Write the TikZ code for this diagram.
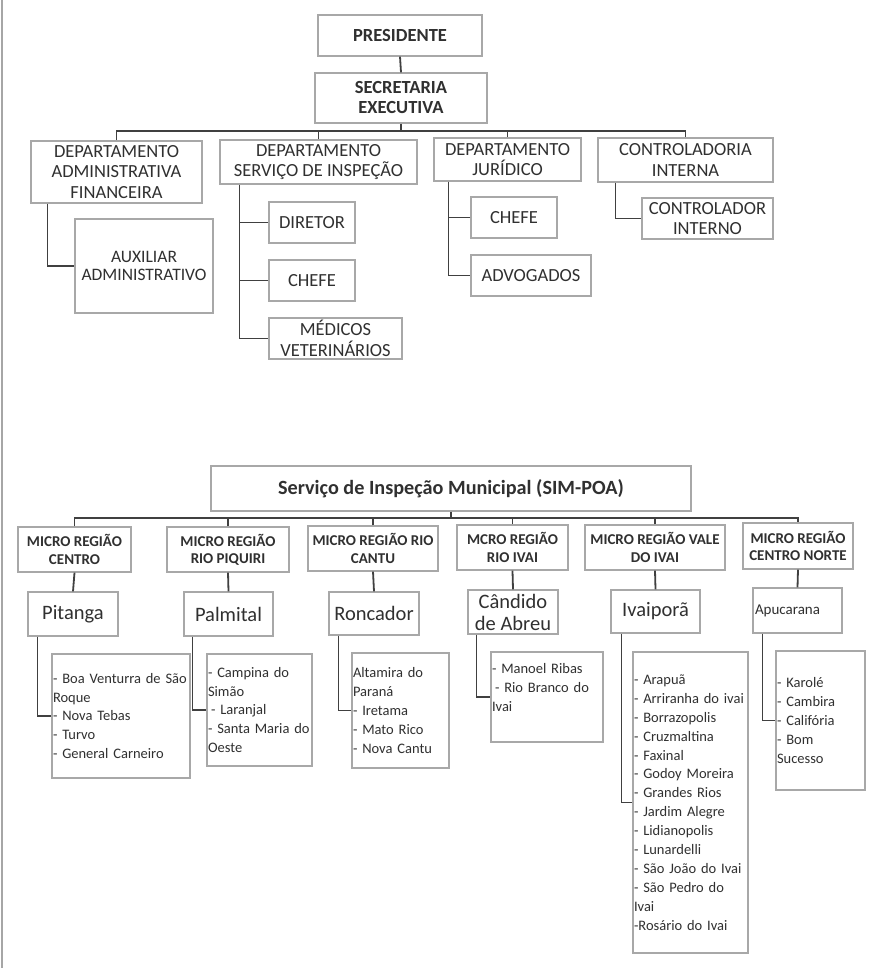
\documentclass[tikz,border=0pt]{standalone}
\usepackage{fontspec}
\setmainfont{Carlito}
\usetikzlibrary{calc}
\definecolor{txt}{HTML}{303030}
\definecolor{bord}{HTML}{A8A8A8}
\definecolor{conn}{HTML}{404040}
\tikzset{
  box/.style={draw=bord,line width=1.2pt,inner sep=0pt,align=center,text=txt},
  dept/.style={box,font=\fontsize{18.5}{20.5}\selectfont},
  boldbox/.style={box,font=\fontsize{18.5}{20}\selectfont\bfseries},
  micro/.style={box,font=\fontsize{15}{17.3}\selectfont\bfseries},
  city/.style={box,font=\fontsize{20.5}{22}\selectfont},
  listbox/.style={draw=bord,line width=1.2pt,inner ysep=0pt,inner xsep=1pt,align=left,text=txt,font=\fontsize{14.5}{18.9}\selectfont},
  link/.style={draw=conn,line width=1.8pt},
  sz/.style 2 args={minimum width=#1pt,minimum height=#2pt},
}
\begin{document}
\begin{tikzpicture}[x=1pt,y=-1pt]
\useasboundingbox (0,0) rectangle (875,968);
\fill[white] (0,0) rectangle (875,968);
\draw[color=black!35,line width=1.5pt] (2,0) -- (2,968);
% ---------- top chart ----------
\node[boldbox,sz={164}{41}] (pres) at (400,35.5) {PRESIDENTE};
\node[boldbox,sz={172}{50}] (sec) at (401,98) {SECRETARIA\\EXECUTIVA};
\node[dept,sz={171}{62}] (daf) at (116.5,172) {DEPARTAMENTO\\ADMINISTRATIVA\\FINANCEIRA};
\node[dept,sz={197}{44}] (dsi) at (318.5,162) {DEPARTAMENTO\\SERVIÇO DE INSPEÇÃO};
\node[dept,sz={147}{43}] (jur) at (507.5,159.5) {DEPARTAMENTO\\JURÍDICO};
\node[dept,sz={175}{44}] (ci) at (685.5,160) {CONTROLADORIA\\INTERNA};
\node[box,font=\fontsize{17.5}{18.5}\selectfont,sz={138}{94}] (aux) at (144,266) {AUXILIAR\\ADMINISTRATIVO};
\node[dept,sz={86}{41}] (dir) at (312,222.5) {DIRETOR};
\node[dept,sz={86}{41}] (chefeA) at (312,280.5) {CHEFE};
\node[dept,sz={133}{41}] (vet) at (335.5,338.5) {MÉDICOS\\VETERINÁRIOS};
\node[dept,sz={86}{41}] (chefeB) at (514,217.5) {CHEFE};
\node[dept,sz={120}{41}] (adv) at (531,275.5) {ADVOGADOS};
\node[dept,sz={131}{41}] (ctl) at (707.5,218.5) {CONTROLADOR\\INTERNO};
\coordinate (busT) at (0,131);
\draw[link] (pres.south) -- (sec.north);
\draw[link] (sec.south) -- (sec.south |- busT);
\draw[link] (daf.north) -- (daf.north |- busT) -- (ci.north |- busT) -- (ci.north);
\draw[link] (dsi.north) -- (dsi.north |- busT);
\draw[link] (jur.north) -- (jur.north |- busT);
\coordinate (dafv) at ($(daf.south west)+(17,0)$);
\draw[link] (dafv) |- (aux.west);
\coordinate (dsiv) at ($(dsi.south west)+(20,0)$);
\draw[link] (dsiv) |- (vet.west);
\draw[link] (dir.west) -- (dir.west -| dsiv);
\draw[link] (chefeA.west) -- (chefeA.west -| dsiv);
\coordinate (jurv) at ($(jur.south west)+(15,0)$);
\draw[link] (jurv) |- (adv.west);
\draw[link] (chefeB.west) -- (chefeB.west -| jurv);
\coordinate (civ) at ($(ci.south west)+(18,0)$);
\draw[link] (civ) |- (ctl.west);
% ---------- bottom chart ----------
\node[box,font=\fontsize{20.2}{22}\selectfont\bfseries,sz={480}{45}] (sim) at (451,488.5) {Serviço de Inspeção Municipal (SIM-POA)};
\node[micro,sz={113}{45}] (mA) at (74.5,549.5) {MICRO REGIÃO\\CENTRO};
\node[micro,sz={122}{45}] (mB) at (228,549.5) {MICRO REGIÃO\\RIO PIQUIRI};
\node[micro,sz={130}{45}] (mC) at (373,548.5) {MICRO REGIÃO RIO\\CANTU};
\node[micro,sz={111}{45}] (mD) at (512.5,547.5) {MCRO REGIÃO\\RIO IVAI};
\node[micro,sz={140}{45}] (mE) at (655,547.5) {MICRO REGIÃO VALE\\DO IVAI};
\node[micro,sz={110}{46}] (mF) at (798,546) {MICRO REGIÃO\\CENTRO NORTE};
\node[city,sz={90}{44}] (cA) at (73,614) {Pitanga};
\node[city,sz={89}{44}] (cB) at (228.5,614) {Palmital};
\node[city,sz={90}{43}] (cC) at (374,613.5) {Roncador};
\node[city,sz={90}{44}] (cD) at (513,612) {Cândido\\de Abreu};
\node[city,sz={89}{43}] (cE) at (655.5,611.5) {Ivaiporã};
\node[box,font=\fontsize{15}{17}\selectfont,text width=87pt,align=left,sz={89}{45}] (cF) at (797.5,610.5) {\hspace*{1pt}Apucarana};
\node[listbox,text width=136pt,sz={138}{124}] (lA) at (121,716) {\mbox{- Boa Venturra de São}\\Roque\\- Nova Tebas\\- Turvo\\- General Carneiro};
\node[listbox,text width=103pt,sz={105}{112}] (lB) at (259.5,710) {- Campina do\\Simão\\\hspace*{3pt}- Laranjal\\\mbox{- Santa Maria do}\\Oeste};
\node[listbox,text width=95pt,sz={97}{115}] (lC) at (400.5,710.5) {Altamira do\\Paraná\\- Iretama\\- Mato Rico\\- Nova Cantu};
\node[listbox,text width=110pt,sz={112}{90}] (lD) at (547,697) {- Manoel Ribas\\\hspace*{3pt}- Rio Branco do\\Ivai\\\mbox{}};
\node[listbox,text width=113pt,sz={115}{301}] (lE) at (690.5,802.5) {- Arapuã\\\mbox{- Arriranha do ivai}\\- Borrazopolis\\- Cruzmaltina\\- Faxinal\\- Godoy Moreira\\- Grandes Rios\\- Jardim Alegre\\- Lidianopolis\\- Lunardelli\\\mbox{- São João do Ivai}\\- São Pedro do\\Ivai\\-Rosário do Ivai};
\node[listbox,text width=87pt,sz={89}{139}] (lF) at (820.5,720.5) {- Karolé\\- Cambira\\- Califória\\- Bom\\Sucesso};
\coordinate (busB) at (0,518);
\draw[link,line width=1.5pt] (sim.south) -- (sim.south |- busB);
\draw[link,line width=1.5pt] (mA.north) -- (mA.north |- busB) -- (mF.north |- busB) -- (mF.north);
\foreach \m in {mB,mC,mD,mE} \draw[link,line width=1.5pt] (\m.north) -- (\m.north |- busB);
\foreach \m/\c in {mA/cA,mB/cB,mC/cC,mD/cD,mE/cE,mF/cF} \draw[link] (\m.south) -- (\c.north);
\foreach \c/\l/\o in {cA/lA/10,cB/lB/9,cC/lC/10,cD/lD/9,cE/lE/11,cF/lF/10}
  \draw[link] ($(\c.south west)+(\o,0)$) |- (\l.west);
\end{tikzpicture}
\end{document}
